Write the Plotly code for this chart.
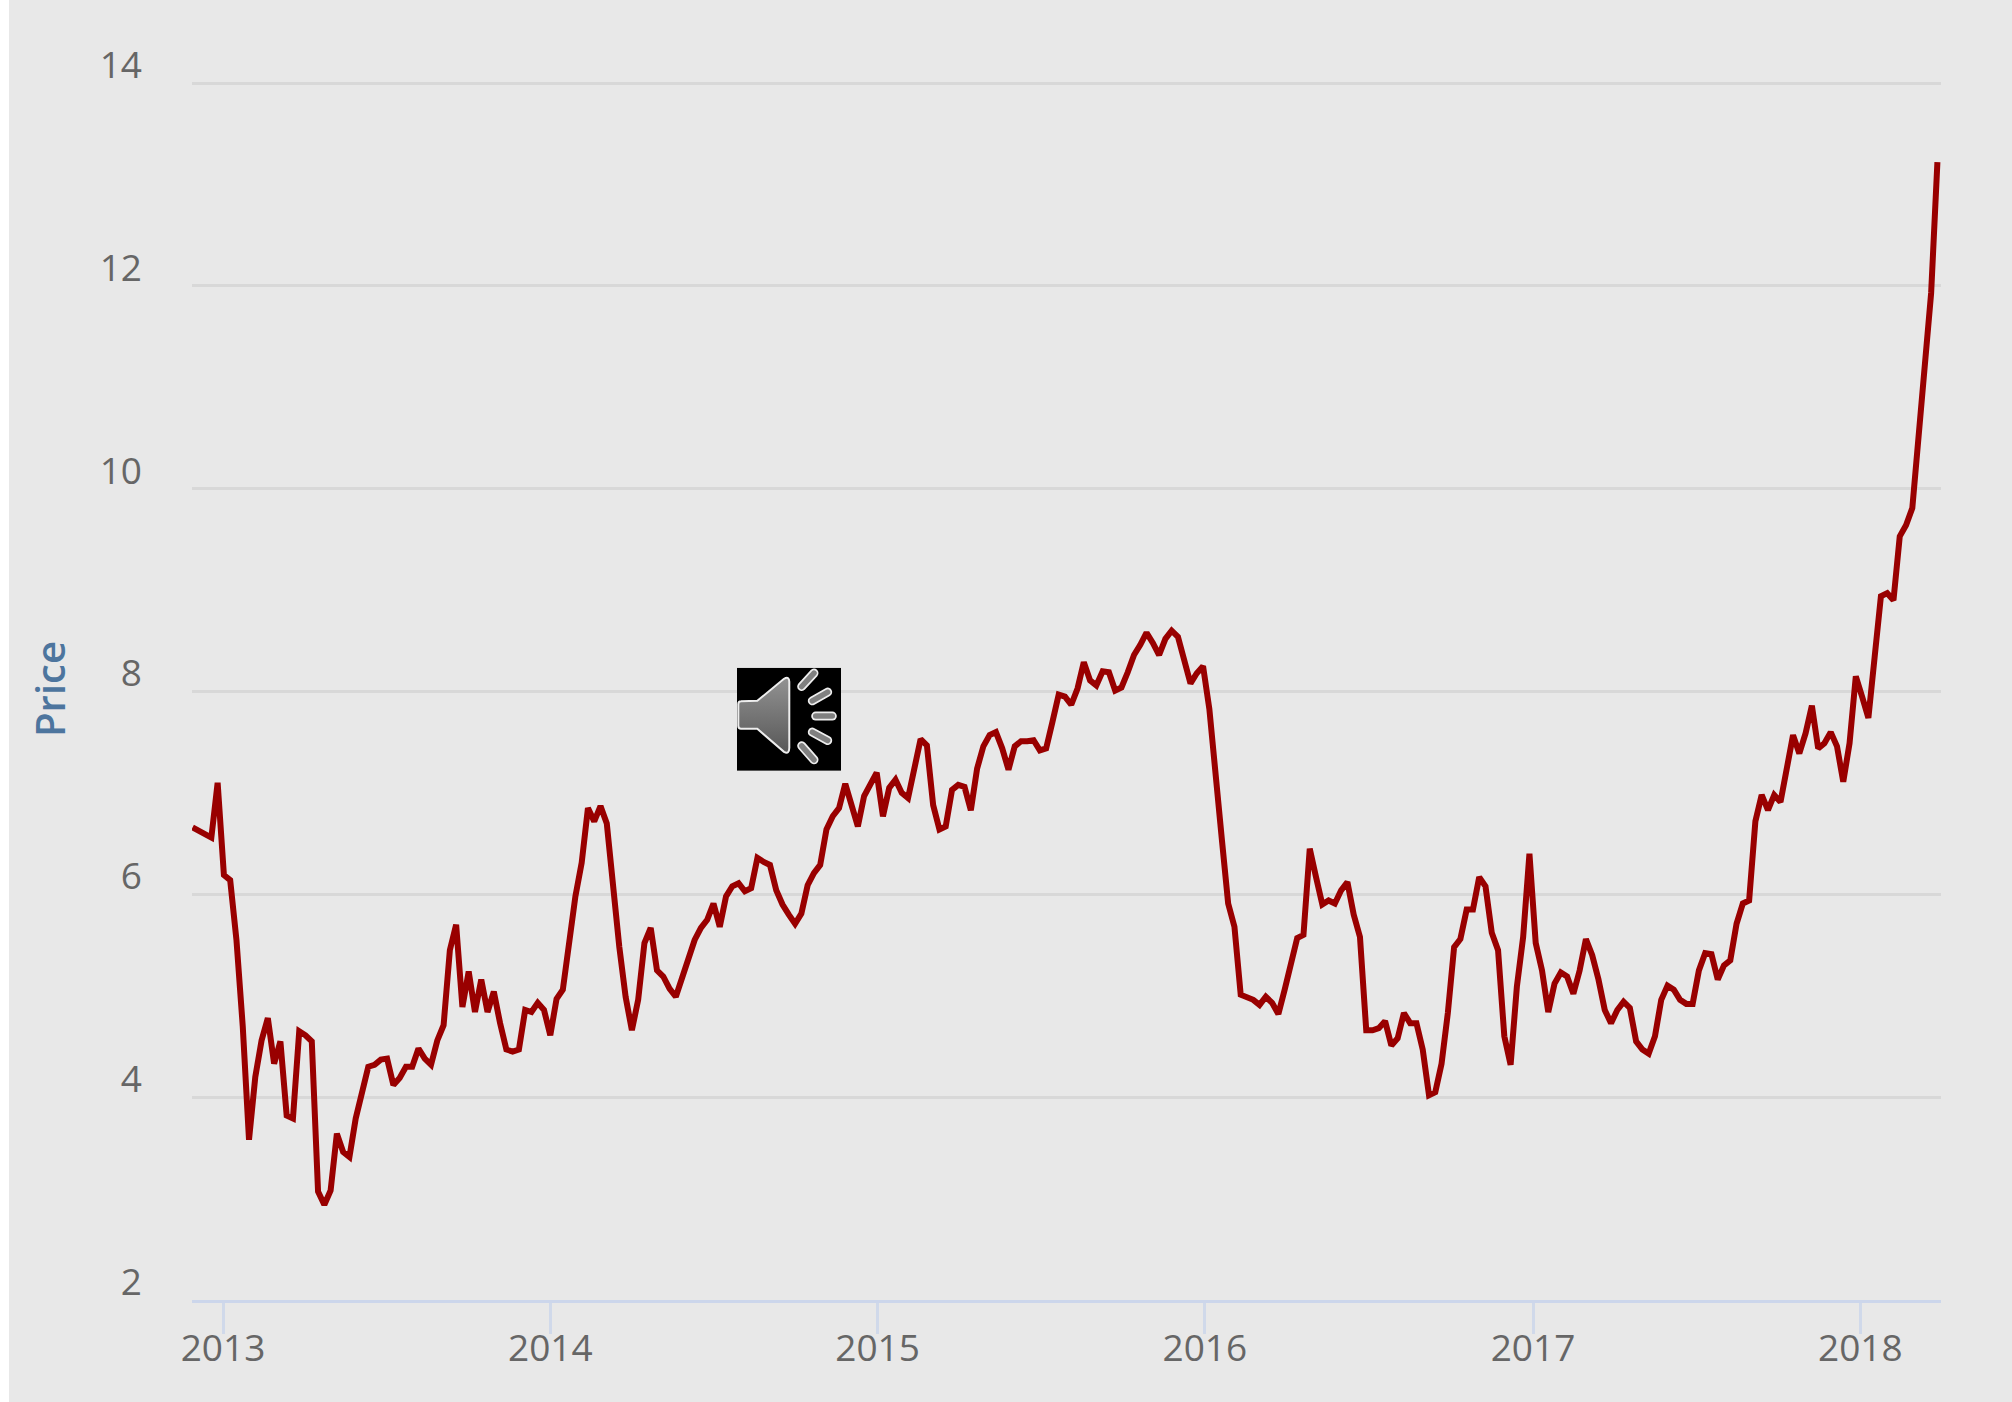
import base64
import pandas as pd
import plotly.graph_objects as go

price = [
    6.66, 6.63, 6.59, 6.56, 7.10, 6.19, 6.14, 5.55, 4.70, 3.58,
    4.20, 4.56, 4.78, 4.33, 4.55, 3.82, 3.79, 4.65, 4.61, 4.55,
    3.07, 2.94, 3.08, 3.64, 3.46, 3.41, 3.79, 4.07, 4.30, 4.32,
    4.37, 4.38, 4.12, 4.19, 4.30, 4.30, 4.48, 4.38, 4.32, 4.56,
    4.71, 5.45, 5.70, 4.89, 5.24, 4.84, 5.16, 4.84, 5.04, 4.73,
    4.47, 4.45, 4.47, 4.86, 4.84, 4.93, 4.86, 4.61, 4.97, 5.06,
    5.55, 5.98, 6.31, 6.85, 6.72, 6.87, 6.70, 6.08, 5.48, 4.99,
    4.66, 4.96, 5.52, 5.67, 5.25, 5.19, 5.07, 4.99, 5.19, 5.39,
    5.55, 5.67, 5.75, 5.91, 5.68, 5.98, 6.08, 6.11, 6.03, 6.06,
    6.36, 6.32, 6.29, 6.04, 5.90, 5.80, 5.71, 5.81, 6.09, 6.21,
    6.29, 6.64, 6.77, 6.85, 7.09, 6.88, 6.67, 6.97, 7.09, 7.20,
    6.77, 7.05, 7.13, 7.00, 6.95, 7.28, 7.53, 7.47, 6.88, 6.64,
    6.67, 7.03, 7.08, 7.06, 6.83, 7.24, 7.46, 7.57, 7.60, 7.44,
    7.23, 7.46, 7.51, 7.51, 7.52, 7.42, 7.44, 7.70, 7.97, 7.95,
    7.87, 8.03, 8.29, 8.11, 8.06, 8.20, 8.19, 8.01, 8.04, 8.19,
    8.36, 8.46, 8.58, 8.48, 8.36, 8.52, 8.60, 8.54, 8.31, 8.08,
    8.18, 8.25, 7.83, 7.13, 6.54, 5.91, 5.68, 5.01, 4.98, 4.96,
    4.91, 4.99, 4.93, 4.82, 5.06, 5.32, 5.57, 5.60, 6.45, 6.17,
    5.90, 5.94, 5.91, 6.04, 6.12, 5.80, 5.58, 4.66, 4.66, 4.68,
    4.75, 4.51, 4.58, 4.83, 4.73, 4.73, 4.47, 4.02, 4.05, 4.33,
    4.83, 5.48, 5.56, 5.85, 5.85, 6.17, 6.08, 5.62, 5.45, 4.60,
    4.32, 5.09, 5.58, 6.40, 5.52, 5.25, 4.84, 5.12, 5.23, 5.19,
    5.02, 5.25, 5.56, 5.40, 5.16, 4.86, 4.73, 4.86, 4.94, 4.88,
    4.55, 4.47, 4.43, 4.60, 4.96, 5.10, 5.06, 4.96, 4.92, 4.92,
    5.25, 5.42, 5.41, 5.16, 5.30, 5.35, 5.71, 5.91, 5.94, 6.72,
    6.98, 6.83, 6.98, 6.91, 7.26, 7.57, 7.39, 7.59, 7.86, 7.44,
    7.49, 7.60, 7.46, 7.11, 7.49, 8.15, 7.95, 7.74, 8.34, 8.94,
    8.97, 8.90, 9.53, 9.64, 9.81, 10.48, 11.14, 11.93, 13.22,
]
week_dates = pd.date_range("2012-11-28", periods=len(price), freq="7D")

year_ticks = ["2013-01-01", "2014-01-01", "2015-01-01", "2016-01-01", "2017-01-01", "2018-01-01"]
year_labels = ["2013", "2014", "2015", "2016", "2017", "2018"]
price_ticks = [2, 4, 6, 8, 10, 12, 14]

W, H = 2012, 1402
L, R, T, B = 192, 71, 78.4, 102
PW, PH = W - L - R, H - T - B

bars = [(64.7, 18.7, 77, 5.3), (75.3, 33, 90.7, 24.3), (78.7, 48.3, 95.3, 48.3),
        (75.3, 64.3, 90.7, 72.7), (64.7, 78, 77, 92)]
bar_svg = "".join(
    f'<line x1="{a}" y1="{b}" x2="{c}" y2="{d}" stroke="#eeeeee" stroke-width="9" stroke-linecap="round"/>'
    f'<line x1="{a}" y1="{b}" x2="{c}" y2="{d}" stroke="#808080" stroke-width="5.5" stroke-linecap="round"/>'
    for a, b, c, d in bars
)
icon_svg = (
    '<svg xmlns="http://www.w3.org/2000/svg" width="104" height="103" viewBox="0 0 104 103">'
    '<defs><linearGradient id="g" x1="0" y1="0" x2="0" y2="1">'
    '<stop offset="0" stop-color="#929292"/><stop offset="1" stop-color="#585858"/></linearGradient></defs>'
    '<rect width="104" height="103" fill="#000"/>'
    '<path d="M4 33.5 L20.3 33 L47 11 Q52.3 8 52.3 14 L52.3 80 Q52.3 87 47 84 L20.3 61 L4 61 Q1.3 61 1.3 58 L1.3 36.5 Q1.3 33.5 4 33.5 Z" '
    'fill="url(#g)" stroke="#eeeeee" stroke-width="2"/>'
    + bar_svg + "</svg>"
)
icon_uri = "data:image/svg+xml;base64," + base64.b64encode(icon_svg.encode()).decode()

fig = go.Figure(
    go.Scatter(
        x=week_dates, y=price, mode="lines", name="Price",
        line=dict(color="#990000", width=6, shape="linear"),
        hoverinfo="x+y",
    )
)

fig.update_layout(
    width=W, height=H,
    margin=dict(l=L, r=R, t=T, b=B, pad=0, autoexpand=False),
    paper_bgcolor="#e8e8e8", plot_bgcolor="#e8e8e8",
    showlegend=False,
    font=dict(family="Open Sans", color="#666666"),
    xaxis=dict(
        type="date",
        range=["2012-11-27 10:00", "2018-04-01"],
        tickmode="array", tickvals=year_ticks, ticktext=year_labels,
        ticks="outside", ticklen=31, tickwidth=3, tickcolor="#d0d9ea",
        showline=True, linecolor="#ccd6eb", linewidth=3,
        showgrid=False, zeroline=False,
        tickfont=dict(family="Open Sans", size=37, color="#666666"),
        ticklabelstandoff=-17,
        automargin=False,
    ),
    yaxis=dict(
        range=[2, 14.05],
        tickmode="array", tickvals=price_ticks,
        ticks="", showline=False, zeroline=False,
        showgrid=True, gridcolor="#d8d8d8", gridwidth=3,
        tickfont=dict(family="Open Sans", size=37, color="#666666"),
        ticklabelstandoff=49, ticklabelshift=-18,
        title=dict(text="Price", standoff=21,
                   font=dict(family="Open Sans", size=40, color="#4d759e", weight=600)),
        automargin=False,
    ),
    shapes=[dict(type="rect", xref="paper", yref="paper",
                 x0=-L / PW, x1=(9 - L) / PW, y0=-B / PH, y1=(PH + T) / PH,
                 fillcolor="#ffffff", line_width=0, layer="above")],
    images=[dict(source=icon_uri, xref="paper", yref="paper",
                 x=(737 - L) / PW, y=(H - B - 668) / PH,
                 sizex=104 / PW, sizey=103 / PH, sizing="stretch",
                 xanchor="left", yanchor="top", layer="above")],
)

fig.write_html(
    "out.html",
    config={"displayModeBar": False},
    post_script="document.body.style.margin='0';document.body.style.overflow='hidden';",
)
